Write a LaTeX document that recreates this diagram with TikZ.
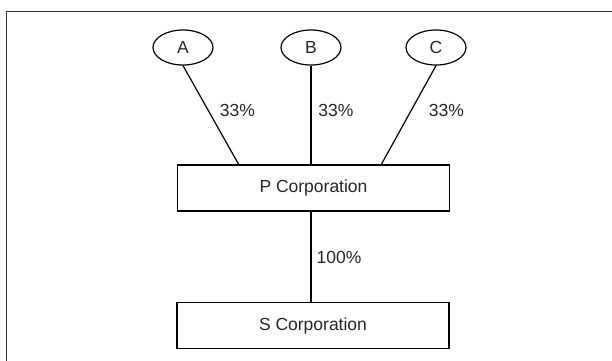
\documentclass[tikz,border=0pt]{standalone}
\usepackage{fontspec}
\setmainfont{Liberation Sans}
\usetikzlibrary{shapes.geometric}
\begin{document}
\begin{tikzpicture}[x=1pt,y=-1pt,
  every node/.style={font=\fontsize{17.5}{20}\selectfont, text=black!85},
  owner/.style={draw, ellipse, line width=1.2pt, minimum width=60pt, minimum height=35pt, inner sep=0pt},
  corp/.style={draw, rectangle, line width=1.2pt, minimum width=272pt, minimum height=46pt, inner sep=0pt},
  link/.style={line width=1.2pt},
  pct/.style={inner sep=0pt}]
\useasboundingbox (0,0) rectangle (612,360);
\draw[line width=1.6pt, black!80] (6.5,361) -- (6.5,11.5) -- (613,11.5);
\node[owner] (A) at (183,47.5) {A};
\node[owner] (B) at (311,47.5) {B};
\node[owner] (C) at (436,47.5) {C};
\node[corp] (P) at (313.5,188) {P Corporation};
\node[corp] (S) at (313,325.5) {S Corporation};
\coordinate (PA) at (239,165);
\coordinate (PC) at (381,165);
\draw[link] (A.south) -- (PA);
\draw[link] (B.south) -- (B.south |- P.north);
\draw[link] (C.south) -- (PC);
\draw[link] (P.south -| B.south) -- (S.north -| B.south);
\node[pct] (la) at (237.5,110) {33\%};
\node[pct] (lb) at (336,110) {33\%};
\node[pct] (lc) at (446.5,110) {33\%};
\node[pct] (lp) at (339,257) {100\%};
\end{tikzpicture}
\end{document}
